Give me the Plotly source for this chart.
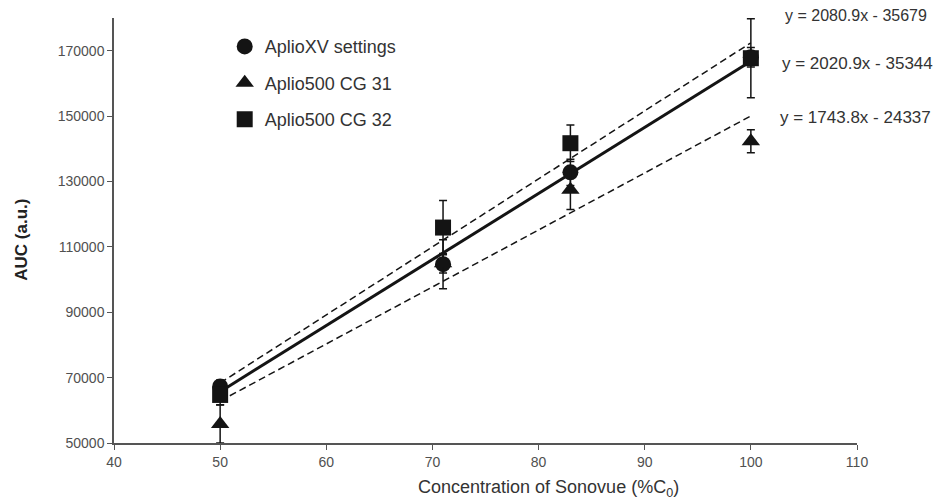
import plotly.graph_objects as go

# ---- data ----
conc = [50, 71, 83, 100]

xv_auc = [67300, 104700, 132800, 168000]
xv_err = [2000, 7500, 4000, 3000]

cg31_auc = [55800, 105000, 127500, 142300]
cg31_err = [5800, 3000, 6100, 3500]

cg32_auc = [64700, 115900, 141700, 167700]
cg32_err = [3000, 8300, 5600, 12100]

series_names = ["AplioXV settings", "Aplio500 CG 31", "Aplio500 CG 32"]

# trend line equations (as printed on chart)
fit_slope = [2020.9, 1743.8, 2080.9]
fit_intercept = [-35344, -24337, -35679]
fit_labels = ["y = 2020.9x - 35344", "y = 1743.8x - 24337", "y = 2080.9x - 35679"]
fit_x = [50, 100]

x_ticks = [40, 50, 60, 70, 80, 90, 100, 110]
y_ticks = [50000, 70000, 90000, 110000, 130000, 150000, 170000]

BLACK = "#141414"
FONT = "Liberation Sans, Arial, sans-serif"

fig = go.Figure()

# trend lines
dashes = ["solid", "7px,4px", "7px,4px"]
widths = [3, 1.5, 1.5]
for s, b, d, w in zip(fit_slope, fit_intercept, dashes, widths):
    fig.add_trace(go.Scatter(
        x=fit_x, y=[s * xx + b for xx in fit_x], mode="lines",
        line=dict(color=BLACK, width=w, dash=d), showlegend=False,
        hoverinfo="skip"))

symbols = ["circle", "triangle-up", "square"]
sizes = [16, 16, 16]
ys = [xv_auc, cg31_auc, cg32_auc]
errs = [xv_err, cg31_err, cg32_err]
for i, (nm, sym, sz, yv, ev) in enumerate(zip(series_names, symbols, sizes, ys, errs)):
    fig.add_trace(go.Scatter(
        x=conc, y=yv, mode="markers", name=nm,
        legendgroup=f"g{i}",
        marker=dict(symbol=sym, size=sz, color=BLACK),
        error_y=dict(type="data", array=ev, visible=True, color=BLACK,
                     thickness=1.5, width=4),
        cliponaxis=False))

fig.update_layout(
    width=940, height=491,
    margin=dict(l=106, r=91, t=10, b=56),
    paper_bgcolor="white", plot_bgcolor="white",
    font=dict(family=FONT, size=14, color="#404040"),
    showlegend=True,
    legend=dict(x=0.149, y=0.976, xanchor="left", yanchor="top",
                bgcolor="rgba(0,0,0,0)", itemwidth=30,
                traceorder="grouped", tracegroupgap=10,
                font=dict(family=FONT, size=18, color="#333333")),
    xaxis=dict(range=[40, 110], tickvals=x_ticks, ticks="outside", ticklen=5,
               tickcolor="#555555", showline=True, linecolor="#555555", linewidth=1.5,
               showgrid=False, zeroline=False,
               tickfont=dict(family=FONT, size=14, color="#505050")),
    yaxis=dict(range=[50000, 180000], tickvals=y_ticks, tickformat="d",
               ticks="outside", ticklen=5,
               tickcolor="#555555", showline=True, linecolor="#555555", linewidth=1.5,
               showgrid=False, zeroline=False,
               tickfont=dict(family=FONT, size=14, color="#505050")),
)

# equation labels
fig.add_annotation(x=0.900, y=1.007, xref="paper", yref="paper", text=fit_labels[2],
                   showarrow=False, xanchor="left", yanchor="middle",
                   font=dict(family=FONT, size=16, color="#333333"))
fig.add_annotation(x=0.897, y=0.894, xref="paper", yref="paper", text=fit_labels[0],
                   showarrow=False, xanchor="left", yanchor="middle",
                   font=dict(family=FONT, size=17, color="#333333"))
fig.add_annotation(x=0.894, y=0.767, xref="paper", yref="paper", text=fit_labels[1],
                   showarrow=False, xanchor="left", yanchor="middle",
                   font=dict(family=FONT, size=17, color="#333333"))

# axis titles
fig.add_annotation(x=0.585, y=-0.106, xref="paper", yref="paper",
                   text="Concentration of Sonovue (%C<sub>0</sub>)", showarrow=False,
                   xanchor="center", yanchor="middle",
                   font=dict(family=FONT, size=18, color="#333333"))
fig.add_annotation(x=-0.124, y=0.478, xref="paper", yref="paper",
                   text="<b>AUC (a.u.)</b>", showarrow=False, textangle=-90,
                   xanchor="center", yanchor="middle",
                   font=dict(family=FONT, size=17, color="#222222"))

fig.write_html("out.html")
